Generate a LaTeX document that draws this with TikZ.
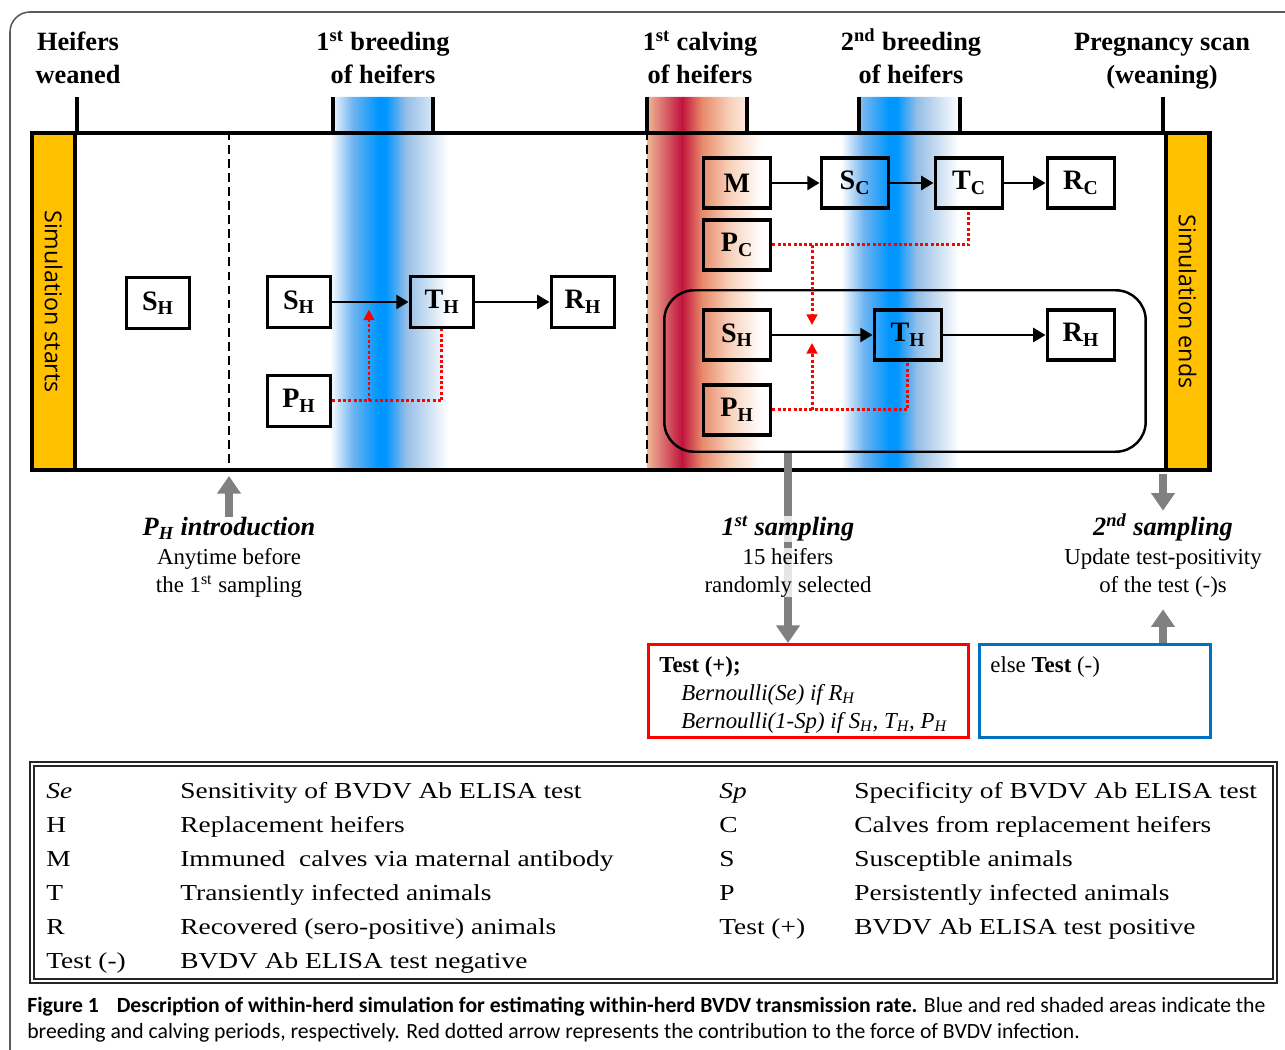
\documentclass[tikz,border=0pt]{standalone}
\usepackage{fontspec}
\setmainfont{Liberation Serif}
\newfontfamily\simfont{Open Sans}
\newfontfamily\legendfont{Liberation Serif}[FakeStretch=1.2]
\newfontfamily\capfont{Carlito}
\usetikzlibrary{positioning,calc,arrows.meta}

\definecolor{barorange}{HTML}{FFC000}
\definecolor{bandpeak}{HTML}{0096FF}
\definecolor{bandmid}{HTML}{6EB4F0}
\definecolor{bandlight}{HTML}{96BEE6}
\definecolor{calvred}{HTML}{C0143C}
\definecolor{calvpeach}{HTML}{F0B896}
\definecolor{calvsalmon}{HTML}{E88A6A}
\definecolor{calvpale}{HTML}{F8D2BC}
\definecolor{arrowgray}{HTML}{808080}
\definecolor{negblue}{HTML}{0070C0}
\definecolor{framegray}{HTML}{5A5A5A}

\pgfdeclarehorizontalshading{breedshade}{100bp}{color(0bp)=(white); color(25bp)=(white); color(34.7bp)=(bandmid); color(45.3bp)=(bandpeak); color(48.7bp)=(bandpeak); color(57.2bp)=(bandlight); color(75bp)=(white); color(100bp)=(white)}
\pgfdeclarehorizontalshading{calvshade}{100bp}{color(0bp)=(calvpeach); color(25bp)=(calvpeach); color(40.2bp)=(calvred); color(48.9bp)=(calvsalmon); color(61.1bp)=(calvpale); color(75bp)=(white); color(100bp)=(white)}

\begin{document}
\begin{tikzpicture}[x=0.02cm, y=-0.02cm,
    compbox/.style={draw, line width=2.2pt, minimum width=1.26cm, minimum height=1.02cm, inner sep=0pt, font=\bfseries\fontsize{16}{19}\selectfont},
    wide/.style={minimum width=1.34cm, minimum height=1.0cm},
    flow/.style={line width=1.4pt, -{Triangle[width=8pt,length=7pt]}},
    infl/.style={red, line width=1.7pt, dash pattern=on 1.7pt off 1.3pt},
    inflarrow/.style={infl, -{Triangle[width=6pt,length=6pt]}},
    tick/.style={line width=2.3pt},
    period/.style={line width=1.3pt, dash pattern=on 5pt off 3pt},
    simbar/.style={draw, line width=2.3pt, fill=barorange, rotate=-90, minimum width=6.74cm, minimum height=0.86cm, inner sep=0pt, font=\simfont\fontsize{13.2}{15}\selectfont},
    header/.style={anchor=north, align=center, inner sep=0pt, font=\bfseries\fontsize{15}{18.7}\selectfont},
    ttl/.style={anchor=base, inner sep=0pt, font=\bfseries\itshape\fontsize{15}{18}\selectfont},
    body/.style={anchor=north, align=center, inner sep=0pt, font=\fontsize{13}{15.9}\selectfont},
    veil/.style={fill=white, fill opacity=0.8, text opacity=1},
    samparrow/.style={draw=arrowgray, line width=5pt, -{Triangle[width=13pt,length=10pt]}},
    testbox/.style={line width=1.7pt, minimum height=1.86cm, inner sep=0pt},
    boxtext/.style={anchor=base west, inner sep=0pt, font=\fontsize{13}{15}\selectfont},
    legend/.style={anchor=base west, inner sep=0pt, font=\legendfont\fontsize{13}{15}\selectfont},
    caption/.style={anchor=base west, inner sep=0pt, font=\capfont\fontsize{12.35}{14}\selectfont}]

  \useasboundingbox (0,0) rectangle (1285,1050);
  \draw[framegray, line width=0.9pt, rounded corners=0.4cm] (10,1050) -- (10,12) -- (1285,12);

  % breeding and calving periods
  \begin{scope}
    \clip (333,97) rectangle (433,131) (30,131) rectangle (1212,472);
    \shade[shading=breedshade] (330,97) rectangle (448,472);
  \end{scope}
  \begin{scope}
    \clip (859,97) rectangle (960,131) (30,131) rectangle (1212,472);
    \shade[shading=breedshade] (841,97) rectangle (959,472);
  \end{scope}
  \begin{scope}
    \clip (647,97) rectangle (747,131) (647,131) rectangle (1212,472);
    \shade[shading=calvshade] (647,97) rectangle (762,472);
  \end{scope}

  % time line
  \node[draw, line width=2.3pt, minimum width=23.56cm, minimum height=6.74cm, inner sep=0pt] (tl) at (621,301.5) {};
  \node[simbar] (simstart) at (53.5,301.5) {Simulation starts};
  \node[simbar] (simend) at (1187.5,301.5) {Simulation ends};
  \foreach \tx in {77,333,433,647,747,859,960,1163}
    \draw[tick] (\tx,97) -- (\tx,131);
  \draw[period] (229,131) -- (229,472);
  \draw[period] (647,131) -- (647,472);

  \node[header] (weaned) at (78,28) {\vphantom{2\textsuperscript{nd}}Heifers\\weaned};
  \node[header] (breed1) at (383,28) {\vphantom{2\textsuperscript{nd}}1\textsuperscript{st} breeding\\of heifers};
  \node[header] (calv1) at (700,28) {\vphantom{2\textsuperscript{nd}}1\textsuperscript{st} calving\\of heifers};
  \node[header] (breed2) at (911,28) {2\textsuperscript{nd} breeding\\of heifers};
  \node[header] (scan) at (1162,28) {\vphantom{2\textsuperscript{nd}}Pregnancy scan\\(weaning)};

  % heifers before calving
  \node[compbox] (sh0) at (158,303) {S\textsubscript{H}};
  \node[compbox] (sh1) at (299,302) {S\textsubscript{H}};
  \node[compbox, right of=sh1, node distance=2.86cm] (th1) {T\textsubscript{H}};
  \node[compbox, right of=th1, node distance=2.82cm] (rh1) {R\textsubscript{H}};
  \node[compbox, below of=sh1, node distance=1.98cm] (ph1) {P\textsubscript{H}};

  % calves and heifers after calving
  \node[compbox, wide] (mc) at (737,183) {M};
  \node[compbox, wide, right of=mc, node distance=2.36cm] (sc) {S\textsubscript{C}};
  \node[compbox, wide, right of=sc, node distance=2.28cm] (tc) {T\textsubscript{C}};
  \node[compbox, wide, right of=tc, node distance=2.24cm] (rc) {R\textsubscript{C}};
  \node[compbox, wide, below of=mc, node distance=1.24cm] (pc) {P\textsubscript{C}};
  \node[draw, line width=1.4pt, rounded corners=0.6cm, minimum width=9.63cm, minimum height=3.23cm] (herd) at (905,371) {};
  \node[compbox, wide] (sh2) at (737,335) {S\textsubscript{H}};
  \node[compbox, wide, right of=sh2, node distance=3.42cm] (th2) {T\textsubscript{H}};
  \node[compbox, wide, right of=th2, node distance=3.46cm] (rh2) {R\textsubscript{H}};
  \node[compbox, wide, below of=sh2, node distance=1.5cm] (ph2) {P\textsubscript{H}};

  \draw[flow] (sh1) -- (th1);
  \draw[flow] (th1) -- (rh1);
  \draw[flow] (mc) -- (sc);
  \draw[flow] (sc) -- (tc);
  \draw[flow] (tc) -- (rc);
  \draw[flow] (sh2) -- (th2);
  \draw[flow] (th2) -- (rh2);

  % force of infection
  \coordinate (j1) at (369,302);
  \draw[infl] (ph1.east) -- (ph1.east -| th1.south) -- (th1.south);
  \draw[inflarrow] (ph1.east -| j1) -- ([yshift=-0.15cm]j1);
  \coordinate (j2) at (812,335);
  \draw[infl] (pc.east) -- (pc.east -| tc.south) -- (tc.south);
  \draw[inflarrow] (pc.east -| j2) -- ([yshift=0.2cm]j2);
  \draw[infl] (ph2.east) -- (ph2.east -| th2.south) -- (th2.south);
  \draw[inflarrow] (ph2.east -| j2) -- ([yshift=-0.16cm]j2);

  % test boxes
  \node[draw=red, testbox, minimum width=6.4cm] (testpos) at (808.5,691) {};
  \node[draw=negblue, testbox, minimum width=4.62cm] (testneg) at (1095,691) {};
  \node[boxtext, font=\bfseries\fontsize{13}{15}\selectfont] (tpos) at (659,672) {Test (+);};
  \node[boxtext, font=\itshape\fontsize{13}{15}\selectfont] (bse) at (681,700) {Bernoulli(Se) if R\textsubscript{H}};
  \node[boxtext, font=\itshape\fontsize{13}{15}\selectfont] (bsp) at (681,728) {Bernoulli(1-Sp) if S\textsubscript{H}, T\textsubscript{H}, P\textsubscript{H}};
  \node[boxtext] (tneg) at (990,672) {else \textbf{Test} (-)};

  % samplings
  \coordinate (s1) at (788,453);
  \coordinate (s2) at (1163,474);
  \draw[samparrow] (s1) -- (s1 |- testpos.north);
  \node[ttl] (phintro) at (229,536) {P\textsubscript{H} introduction};
  \node[body] (phtxt) at (229,548) {Anytime before\\the 1\textsuperscript{st} sampling};
  \node[ttl, veil] (samp1) at (788,536) {1\textsuperscript{st} sampling};
  \node[body, veil] (samp1txt) at (788,548) {15 heifers\\randomly selected};
  \node[ttl] (samp2) at (1163,536) {2\textsuperscript{nd} sampling};
  \node[body] (samp2txt) at (1163,548) {Update test-positivity\\of the test (-)s};
  \draw[samparrow] (phintro.north) -- ([yshift=-0.08cm]phintro.north |- tl.south);
  \draw[samparrow] (s2) -- ([yshift=0.06cm]samp2.north -| s2);
  \draw[samparrow] (testneg.north -| s2) -- ([yshift=-0.24cm]samp2txt.south -| s2);

  % legend
  \draw[black!85, line width=0.8pt, double, double distance=1.6pt] (32,764) rectangle (1275,981);
  \foreach \key/\desc [count=\i] in {\textit{Se}/Sensitivity of BVDV Ab ELISA test, H/Replacement heifers, M/Immuned\hspace{0.3em} calves via maternal antibody, T/Transiently infected animals, R/Recovered (sero-positive) animals, Test (-)/BVDV Ab ELISA test negative}
  {
    \node[legend] (lk\i) at (46,{798+34*(\i-1)}) {\key};
    \node[legend] (ld\i) at (180,{798+34*(\i-1)}) {\desc};
  }
  \foreach \key/\desc [count=\i] in {\textit{Sp}/Specificity of BVDV Ab ELISA test, C/Calves from replacement heifers, S/Susceptible animals, P/Persistently infected animals, Test (+)/BVDV Ab ELISA test positive}
  {
    \node[legend] (rk\i) at (719,{798+34*(\i-1)}) {\key};
    \node[legend] (rd\i) at (854,{798+34*(\i-1)}) {\desc};
  }

  \node[caption] (cap1) at (27,1012) {\textbf{Figure 1\hspace{0.6em} Description of within-herd simulation for estimating within-herd BVDV transmission rate.} Blue and red shaded areas indicate the};
  \node[caption] (cap2) at (27,1038) {breeding and calving periods, respectively. Red dotted arrow represents the contribution to the force of BVDV infection.};
\end{tikzpicture}
\end{document}
